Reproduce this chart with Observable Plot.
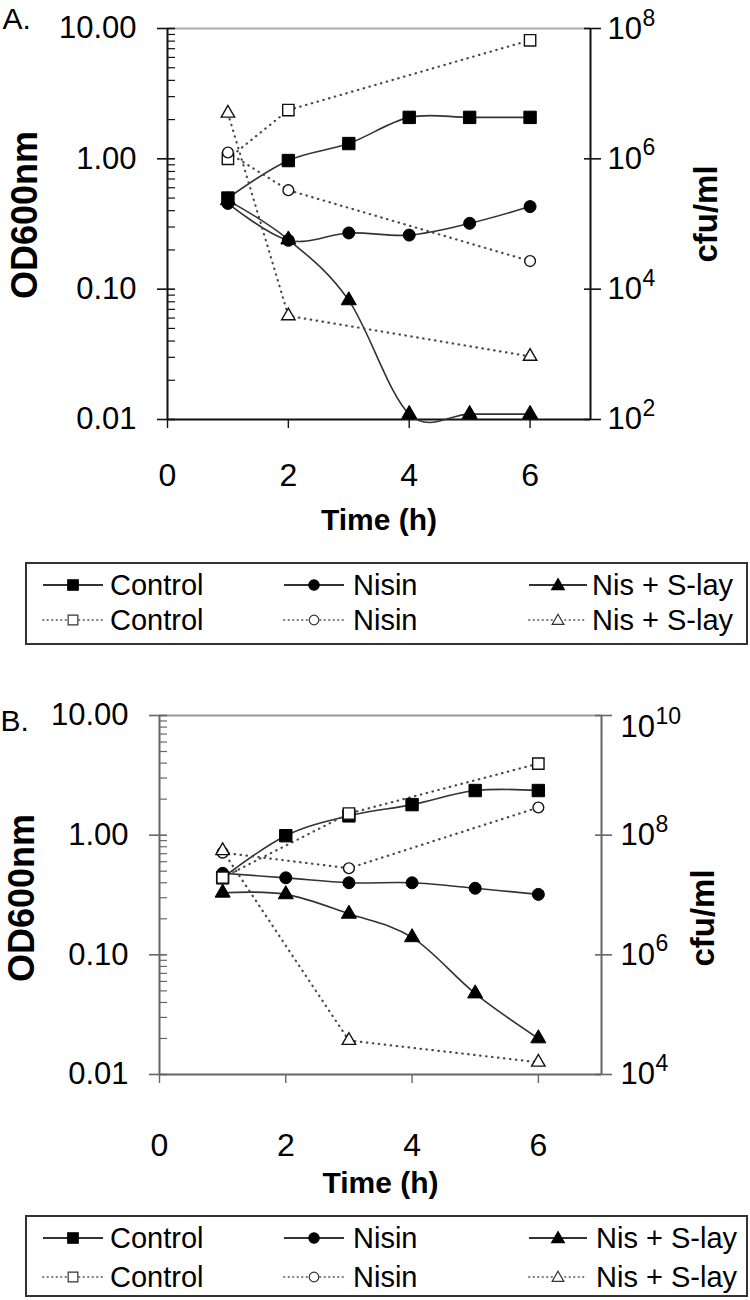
<!DOCTYPE html>
<html><head><meta charset="utf-8">
<script src="https://cdn.jsdelivr.net/npm/d3@7"></script>
<script src="https://cdn.jsdelivr.net/npm/@observablehq/plot@0.6"></script>
<style>
body{margin:0;background:#fff;}
#root{position:relative;width:750px;height:1300px;font-family:"Liberation Sans",Arial,sans-serif;}
#root > *{position:absolute;}
</style></head><body><div id="root"></div>
<script>
// ---------- data ----------
const hours = [1, 2, 3, 4, 5, 6];
const seriesNames = ["Control", "Nisin", "Nis + S-lay"];
const symbols = ["square", "circle", "triangle"];

// Panel A: OD600nm (solid, filled markers) and cfu/ml (dotted, open markers)
const aOdControl = [0.50, 0.97, 1.31, 2.08, 2.08, 2.08];
const aOdNisin   = [0.455, 0.237, 0.27, 0.26, 0.32, 0.43];
const aOdNisSlay = [0.48, 0.24, 0.082, 0.011, 0.011, 0.011];
const aCfuHours   = [1, 2, 6];
const aCfuControl = [1.0e6, 5.6e6, 6.6e7];
const aCfuNisin   = [1.25e6, 3.3e5, 2.7e4];
const aCfuNisSlay = [5.0e6, 3.9e3, 9.3e2];

// Panel B
const bOdControl = [0.44, 0.99, 1.45, 1.80, 2.36, 2.36];
const bOdNisin   = [0.48, 0.44, 0.40, 0.40, 0.36, 0.32];
const bOdNisSlay = [0.33, 0.32, 0.22, 0.14, 0.0475, 0.020];
const bCfuHours   = [1, 3, 6];
const bCfuControl = [1.95e7, 2.3e8, 1.57e9];
const bCfuNisin   = [5.1e7, 2.8e7, 2.9e8];
const bCfuNisSlay = [5.5e7, 3.7e4, 1.6e4];

// ticks
const xTicks = [0, 2, 4, 6];
const odTicks = [0.01, 0.1, 1, 10];
const odMinor = [0.02,0.03,0.04,0.05,0.06,0.07,0.08,0.09,0.2,0.3,0.4,0.5,0.6,0.7,0.8,0.9,2,3,4,5,6,7,8,9];
const aCfuTicks = [1e2, 1e4, 1e6, 1e8];
const bCfuTicks = [1e4, 1e6, 1e8, 1e10];

const FONT = "'Liberation Sans', Arial, sans-serif";
const dotR = [7, 6, 5.6];

function panel(cfg) {
  const {od, cfu, cfuHours, cfuTicks, cfuLo, cfuHi, height, mt, mb, ml, mr,
         axisColor, topColor, tickPad, xLabelDy, tag, tagDx, tagDy,
         odDx, odDy, cfuDx, cfuDy, rightPad, topLabelDy} = cfg;
  // map cfu/ml onto the OD axis (secondary log axis, 2 cfu decades per OD decade)
  const toY = c => Math.pow(10, -2 + 3 * (Math.log10(c) - cfuLo) / (cfuHi - cfuLo));
  const marks = [];
  // frame lines
  marks.push(Plot.ruleY([10], {stroke: topColor, strokeWidth: 2}));
  marks.push(Plot.ruleX([0], {stroke: axisColor, strokeWidth: 2}));
  marks.push(Plot.ruleX([7], {stroke: axisColor, strokeWidth: 2}));
  marks.push(Plot.ruleY([0.01], {stroke: axisColor, strokeWidth: 2}));
  // left axis ticks
  marks.push(Plot.axisY(odMinor, {label: null, tickSize: 8, dx: 8, tickFormat: () => "", stroke: axisColor, strokeWidth: 1.2}));
  marks.push(Plot.axisY(odTicks, {label: null, tickSize: 18, dx: 8, tickFormat: () => "", stroke: axisColor, strokeWidth: 1.6}));
  marks.push(Plot.axisY(odTicks, {label: null, tickSize: 0, tickPadding: 31, tickFormat: d3.format(".2f"), fontSize: 31}));
  // right axis
  const cfuPos = cfuTicks.map(toY);
  marks.push(Plot.axisY(cfuPos, {label: null, anchor: "right", tickSize: 17, dx: -7, tickFormat: () => "", stroke: axisColor, strokeWidth: 1.6}));
  const lower = cfuTicks.slice(0, -1), top = cfuTicks.slice(-1);
  [[lower, 0], [top, topLabelDy]].forEach(([ticks, ddy]) => {
    marks.push(Plot.text(ticks, {y: toY, frameAnchor: "right", text: () => "10",
      dx: rightPad, dy: ddy, textAnchor: "start", lineAnchor: "middle", fontSize: 31}));
    marks.push(Plot.text(ticks, {y: toY, frameAnchor: "right", text: d => String(Math.round(Math.log10(d))),
      dx: rightPad + 35, dy: ddy - 11, textAnchor: "start", lineAnchor: "middle", fontSize: 23}));
  });
  // x axis
  marks.push(Plot.axisX(xTicks, {label: null, tickSize: 9, tickFormat: () => "", stroke: axisColor, strokeWidth: 1.4}));
  marks.push(Plot.axisX(xTicks, {label: null, tickSize: 0, tickPadding: tickPad, fontSize: 32}));
  // axis titles
  marks.push(Plot.text(["Time (h)"], {text: d => d, frameAnchor: "bottom", dy: xLabelDy, textAnchor: "middle", fontWeight: "bold", fontSize: 30, lineAnchor: "middle"}));
  marks.push(Plot.text(["OD600nm"], {text: d => d, frameAnchor: "left", dx: odDx, dy: odDy, rotate: -90, textAnchor: "middle", fontWeight: "bold", fontSize: 36, lineAnchor: "middle"}));
  marks.push(Plot.text(["cfu/ml"], {text: d => d, frameAnchor: "right", dx: cfuDx, dy: cfuDy, rotate: -90, textAnchor: "middle", fontWeight: "bold", fontSize: 33, lineAnchor: "middle"}));
  marks.push(Plot.text([tag], {text: d => d, frameAnchor: "top-left", dx: tagDx, dy: tagDy, textAnchor: "start", lineAnchor: "bottom", fontSize: 30}));

  // series
  const odRows = od.map(vals => hours.map((h, j) => ({h, v: vals[j]})));
  const cfuRows = cfu.map(vals => cfuHours.map((h, j) => ({h, v: vals[j]})));
  odRows.forEach(rows => marks.push(Plot.line(rows, {x: "h", y: "v", curve: "cardinal", tension: 0, stroke: "#333", strokeWidth: 1.6})));
  cfuRows.forEach(rows => marks.push(Plot.line(rows, {x: "h", y: d => toY(d.v), stroke: "#4a4a4a", strokeWidth: 2.2, strokeDasharray: "0.5,5.5", strokeLinecap: "round"})));
  odRows.forEach((rows, i) => marks.push(Plot.dot(rows, {x: "h", y: "v", symbol: symbols[i], r: dotR[i], fill: "#000", stroke: "#000", strokeWidth: 1})));
  cfuRows.forEach((rows, i) => marks.push(Plot.dot(rows, {x: "h", y: d => toY(d.v), symbol: symbols[i], r: dotR[i] - 0.6, fill: "#fff", stroke: "#111", strokeWidth: 1.4})));

  return Plot.plot({
    width: 750, height,
    marginTop: mt, marginBottom: mb, marginLeft: ml, marginRight: mr,
    x: {domain: [0, 7], label: null},
    y: {type: "log", domain: [0.01, 10], label: null},
    style: {fontFamily: FONT, fontSize: "31px", color: "#000", background: "transparent", overflow: "visible"},
    marks
  });
}

function legend(h, rowY, col3Text) {
  const w = 724;
  const svg = d3.create("svg").attr("width", w).attr("height", h)
    .style("font-family", FONT).style("overflow", "visible");
  svg.append("rect").attr("x", 1).attr("y", 1).attr("width", w - 3).attr("height", h - 2)
    .attr("fill", "none").attr("stroke", "#333").attr("stroke-width", 2);
  const cols = [{x0: 18, x1: 78, tx: 85}, {x0: 259, x1: 319, tx: 328}, {x0: 504, x1: 562, tx: col3Text}];
  const symTypes = [d3.symbolSquare, d3.symbolCircle, d3.symbolTriangle];
  const symSize = [110, 85, 70];
  rowY.forEach((y, r) => {
    cols.forEach((c, i) => {
      const cx = (c.x0 + c.x1) / 2;
      svg.append("line").attr("x1", c.x0).attr("x2", c.x1).attr("y1", y).attr("y2", y)
        .attr("stroke", r === 0 ? "#333" : "#777").attr("stroke-width", r === 0 ? 1.8 : 1.8)
        .attr("stroke-linecap", r === 0 ? null : "round")
        .attr("stroke-dasharray", r === 0 ? null : "0.5,4");
      svg.append("path").attr("transform", `translate(${cx},${y + (i === 2 ? 1 : 0)})`)
        .attr("d", d3.symbol(symTypes[i], symSize[i] * (r === 0 ? 1 : 0.85))())
        .attr("fill", r === 0 ? "#000" : "#fff").attr("stroke", r === 0 ? "#000" : "#333").attr("stroke-width", 1.2);
      svg.append("text").attr("x", c.tx).attr("y", y).attr("dy", "0.35em")
        .attr("font-size", 29).text(seriesNames[i]);
    });
  });
  return svg.node();
}

const root = document.getElementById("root");
const A = panel({
  od: [aOdControl, aOdNisin, aOdNisSlay], cfu: [aCfuControl, aCfuNisin, aCfuNisSlay],
  cfuHours: aCfuHours, cfuTicks: aCfuTicks, cfuLo: 2, cfuHi: 8,
  height: 545, mt: 28, mb: 126, ml: 167, mr: 160,
  axisColor: "#111", topColor: "#aaa", tickPad: 44, xLabelDy: 101,
  tag: "A.", tagDx: -165, tagDy: 0, odDx: -142, odDy: -9, cfuDx: 116, cfuDy: -10, rightPad: 17, topLabelDy: 1
});
A.style.left = "0px"; A.style.top = "0px";
root.appendChild(A);
const LA = legend(83, [23, 58], 567);
LA.style.left = "25px"; LA.style.top = "562px";
root.appendChild(LA);

const B = panel({
  od: [bOdControl, bOdNisin, bOdNisSlay], cfu: [bCfuControl, bCfuNisin, bCfuNisSlay],
  cfuHours: bCfuHours, cfuTicks: bCfuTicks, cfuLo: 4, cfuHi: 10,
  height: 510, mt: 25, mb: 126, ml: 159, mr: 149,
  axisColor: "#666", topColor: "#999", tickPad: 59, xLabelDy: 109,
  tag: "B.", tagDx: -159, tagDy: 15, odDx: -137, odDy: 3, cfuDx: 102, cfuDy: 23, rightPad: 19, topLabelDy: 12
});
B.style.left = "0px"; B.style.top = "690px";
root.appendChild(B);
const LB = legend(82, [23, 62], 571);
LB.style.left = "25px"; LB.style.top = "1215px";
root.appendChild(LB);
</script></body></html>
